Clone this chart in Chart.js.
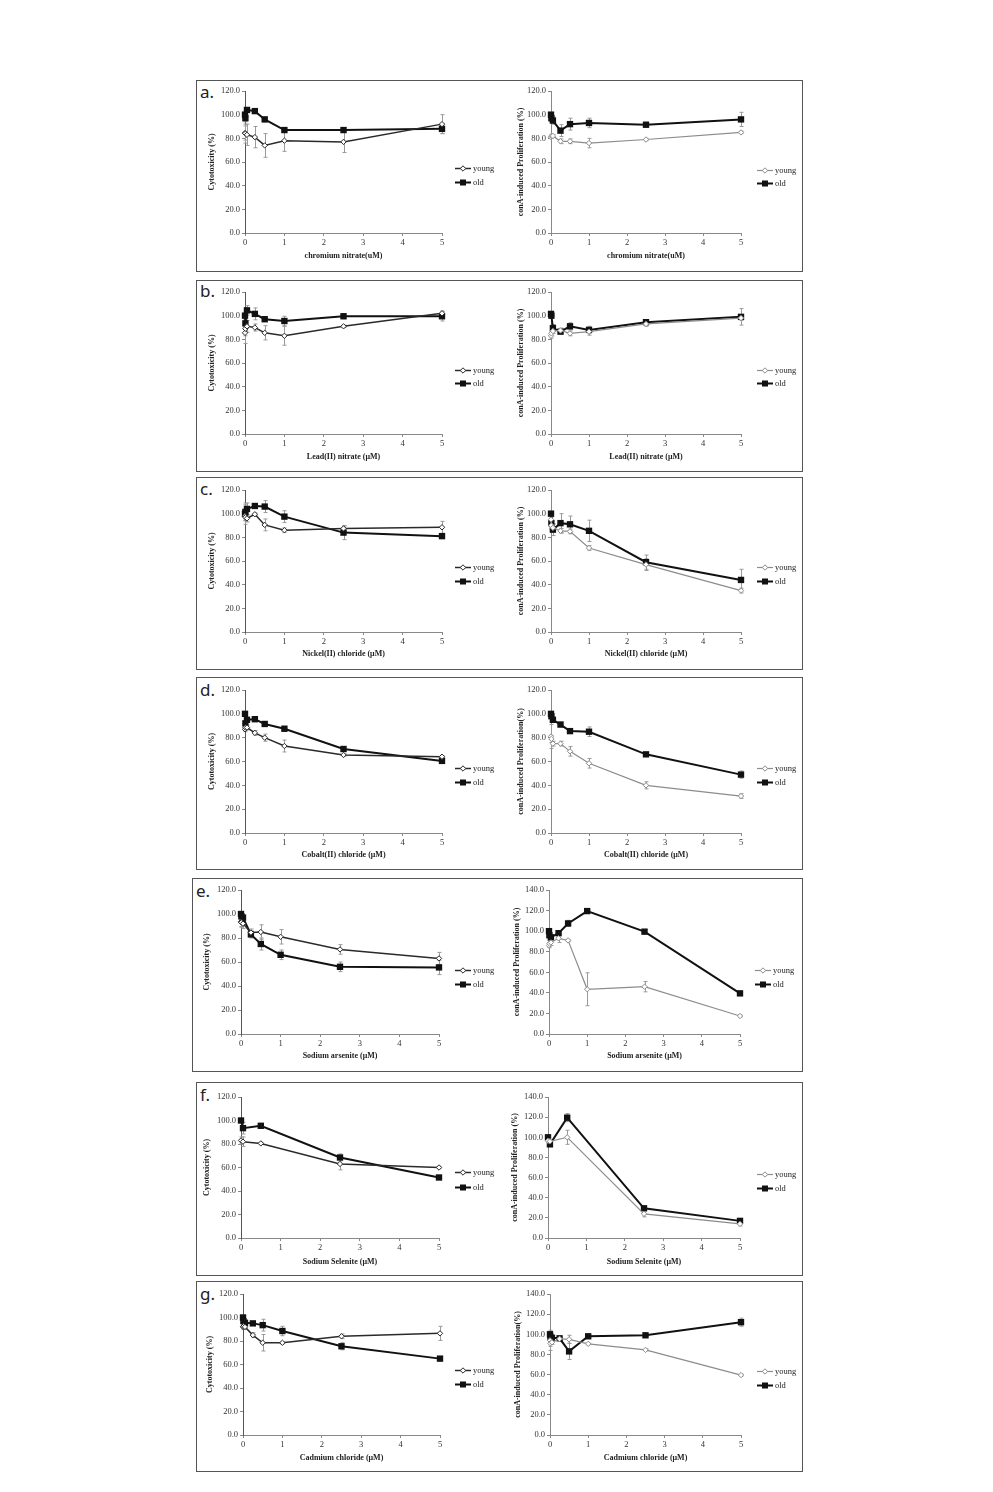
<!DOCTYPE html>
<html><head><meta charset="utf-8">
<script src="https://cdn.jsdelivr.net/npm/chart.js@4"></script>
<style>
html,body{margin:0;padding:0;background:#fff;}
body{width:993px;height:1492px;position:relative;overflow:hidden;}
.box{position:absolute;border:1px solid #555;box-sizing:border-box;}
.lbl{position:absolute;font-family:'Noto Sans',sans-serif;font-size:17px;line-height:17px;color:#222;}
canvas{position:absolute;}
</style></head><body>
<script>
// ---------- DATA ----------
const doses  = [0, 0.01, 0.05, 0.25, 0.5, 1, 2.5, 5];
const dosesF = [0, 0.05, 0.5, 2.5, 5];
const seriesNames = ['young', 'old'];

// a. chromium nitrate
const aCytoYoung = [84.5, 84, 83, 81, 74, 78, 77, 92];
const aCytoYoungErr = [6, 8, 9, 9, 10, 9, 9, 8];
const aCytoOld = [100, 97, 104, 103, 96, 87, 87, 88];
const aCytoOldErr = [3, 3, 2, 2, 2, 2, 2, 4];
const aProlYoung = [81, 82, 82, 77.5, 77.5, 76, 79, 85];
const aProlYoungErr = [1, 1, 1, 2, 2, 4, 1, 1];
const aProlOld = [100, 97, 95, 86.5, 92, 93, 91.5, 96];
const aProlOldErr = [2, 3, 3, 5, 5, 4, 2, 6];
// b. lead nitrate
const bCytoYoung = [85.5, 89, 91, 90, 85.5, 83, 91, 102];
const bCytoYoungErr = [9, 6, 5, 3, 6, 8, 1, 2];
const bCytoOld = [100, 93.5, 104.5, 101.5, 97, 95.5, 99.5, 99.5];
const bCytoOldErr = [3, 3, 4, 5, 2, 4, 2, 4];
const bProlYoung = [83, 85, 87, 87.5, 85, 86.5, 93, 98];
const bProlYoungErr = [2, 2, 2, 2, 2, 3, 2, 2];
const bProlOld = [101.5, 100, 89.5, 86.5, 91, 88, 94.5, 99];
const bProlOldErr = [2, 2, 3, 2, 3, 3, 2, 7];
// c. nickel chloride
const cCytoYoung = [98, 97, 96, 99.5, 90.5, 86, 87.5, 88.5];
const cCytoYoungErr = [4, 3, 3, 1, 5, 2, 2, 5];
const cCytoOld = [100, 101.5, 104, 106.5, 106, 97.5, 84, 81];
const cCytoOldErr = [9, 6, 5, 2, 5, 5, 6, 2];
const cProlYoung = [95, 90, 88, 85.5, 85, 71, 57, 35];
const cProlYoungErr = [3, 3, 3, 2, 2, 2, 5, 2];
const cProlOld = [100, 92, 86.5, 92, 91, 85.5, 59, 44];
const cProlOldErr = [2, 5, 5, 8, 7, 9, 6, 9];
// d. cobalt chloride
const dCytoYoung = [87, 88.5, 88.5, 84, 80, 73, 65.5, 64];
const dCytoYoungErr = [2, 2, 2, 2, 3, 5, 1, 1];
const dCytoOld = [100, 92, 95, 95.5, 91.5, 87.5, 70.5, 60.5];
const dCytoOldErr = [2, 2, 2, 2, 2, 2, 2, 2];
const dProlYoung = [81, 79, 75, 75, 68.5, 58.5, 40, 31];
const dProlYoungErr = [10, 3, 2, 2, 4, 4, 3, 2];
const dProlOld = [100, 98, 95, 91, 85.5, 85, 66, 49];
const dProlOldErr = [2, 2, 2, 2, 2, 4, 1, 3];
// e. sodium arsenite
const eCytoYoung = [93.5, 93, 92, 84.5, 85, 81, 70.5, 63];
const eCytoYoungErr = [4, 4, 4, 3, 6, 6, 4, 5];
const eCytoOld = [100, 98, 97, 83, 75, 66, 56, 55.5];
const eCytoOldErr = [2, 2, 2, 3, 5, 4, 4, 6];
const eProlYoung = [86, 88, 89, 93, 91, 43.5, 46, 17.5];
const eProlYoungErr = [2, 3, 3, 4, 1, 16, 5, 1];
const eProlOld = [100, 96, 94, 98, 107.5, 119.5, 99.5, 39.5];
const eProlOldErr = [2, 2, 2, 2, 3, 1, 2, 2];
// f. sodium selenite
const fCytoYoung = [83, 82, 80.5, 63, 60];
const fCytoYoungErr = [3, 4, 1, 5, 1];
const fCytoOld = [100, 93.5, 95.5, 68.5, 51.5];
const fCytoOldErr = [1, 5, 1, 3, 1];
const fProlYoung = [96.5, 96, 100, 24, 14];
const fProlYoungErr = [1, 1, 7, 3, 2];
const fProlOld = [100, 93, 119.5, 29.5, 17];
const fProlOldErr = [1, 2, 4, 1, 2];
// g. cadmium chloride
const gCytoYoung = [92, 92.5, 92, 85, 78.5, 78.5, 84, 86.5];
const gCytoYoungErr = [2, 2, 2, 2, 7, 1, 2, 6];
const gCytoOld = [100, 97, 95.5, 95, 93.5, 88.5, 75.5, 65];
const gCytoOldErr = [2, 2, 2, 1, 5, 4, 3, 1];
const gProlYoung = [94, 91, 92, 95.5, 95, 90.5, 84.5, 59.5];
const gProlYoungErr = [10, 3, 2, 1, 4, 1, 1, 1];
const gProlOld = [100, 97.5, 96.5, 96, 83, 98, 99, 112];
const gProlOldErr = [3, 3, 2, 1, 8, 2, 1, 4];

const cytoTitle = 'Cytotoxicity (%)';
const prolTitle = 'conA-induced Proliferation (%)';
const prolTitle2 = 'conA-induced Proliferation(%)';

// ---------- LAYOUT ----------
const panelBoxes = [[196,80,803,272],[196,280,803,472],[196,477,803,670],[196,677,803,870],[192,878,803,1072],[196,1082,803,1276],[196,1281,803,1472]];
const panelLetters = ['a.','b.','c.','d.','e.','f.','g.'];
const letterPos = [[200,98],[200,297],[200,495],[200,696],[196,897],[200,1101],[200,1300]];

panelBoxes.forEach((b,i)=>{
  const d=document.createElement('div'); d.className='box';
  d.style.left=b[0]+'px'; d.style.top=b[1]+'px'; d.style.width=(b[2]-b[0])+'px'; d.style.height=(b[3]-b[1])+'px';
  document.body.appendChild(d);
  const l=document.createElement('div'); l.className='lbl'; l.textContent=panelLetters[i];
  l.style.left=letterPos[i][0]+'px'; l.style.top=(letterPos[i][1]-15)+'px';
  document.body.appendChild(l);
});

const specs = [
 {x:doses, yv:aCytoYoung, ye:aCytoYoungErr, ov:aCytoOld, oe:aCytoOldErr, ymax:120, yTitle:cytoTitle, xTitle:'chromium nitrate(uM)', L:245,T:91,R:442,B:233, yt:212, xt:256, lx:455, ly:[168,182], light:false},
 {x:doses, yv:aProlYoung, ye:aProlYoungErr, ov:aProlOld, oe:aProlOldErr, ymax:120, yTitle:prolTitle, xTitle:'chromium nitrate(uM)', L:551,T:91,R:741,B:233, yt:521, xt:256, lx:757, ly:[170,183], light:true},
 {x:doses, yv:bCytoYoung, ye:bCytoYoungErr, ov:bCytoOld, oe:bCytoOldErr, ymax:120, yTitle:cytoTitle, xTitle:'Lead(II) nitrate (μM)', L:245,T:292,R:442,B:434, yt:212, xt:457, lx:455, ly:[370,383], light:false},
 {x:doses, yv:bProlYoung, ye:bProlYoungErr, ov:bProlOld, oe:bProlOldErr, ymax:120, yTitle:prolTitle, xTitle:'Lead(II) nitrate (μM)', L:551,T:292,R:741,B:434, yt:521, xt:457, lx:757, ly:[370,383], light:true},
 {x:doses, yv:cCytoYoung, ye:cCytoYoungErr, ov:cCytoOld, oe:cCytoOldErr, ymax:120, yTitle:cytoTitle, xTitle:'Nickel(II) chloride (μM)', L:245,T:490,R:442,B:632, yt:212, xt:654, lx:455, ly:[567,581], light:false},
 {x:doses, yv:cProlYoung, ye:cProlYoungErr, ov:cProlOld, oe:cProlOldErr, ymax:120, yTitle:prolTitle, xTitle:'Nickel(II) chloride (μM)', L:551,T:490,R:741,B:632, yt:521, xt:654, lx:757, ly:[567,581], light:true},
 {x:doses, yv:dCytoYoung, ye:dCytoYoungErr, ov:dCytoOld, oe:dCytoOldErr, ymax:120, yTitle:cytoTitle, xTitle:'Cobalt(II) chloride (μM)', L:245,T:690,R:442,B:833, yt:212, xt:855, lx:455, ly:[768,782], light:false},
 {x:doses, yv:dProlYoung, ye:dProlYoungErr, ov:dProlOld, oe:dProlOldErr, ymax:120, yTitle:prolTitle2, xTitle:'Cobalt(II) chloride (μM)', L:551,T:690,R:741,B:833, yt:521, xt:855, lx:757, ly:[768,782], light:true},
 {x:doses, yv:eCytoYoung, ye:eCytoYoungErr, ov:eCytoOld, oe:eCytoOldErr, ymax:120, yTitle:cytoTitle, xTitle:'Sodium arsenite (μM)', L:241,T:890,R:439,B:1034, yt:207, xt:1056, lx:455, ly:[970,984], light:false},
 {x:doses, yv:eProlYoung, ye:eProlYoungErr, ov:eProlOld, oe:eProlOldErr, ymax:140, yTitle:prolTitle, xTitle:'Sodium arsenite (μM)', L:549,T:890,R:740,B:1034, yt:517, xt:1056, lx:755, ly:[970,984], light:true},
 {x:dosesF, yv:fCytoYoung, ye:fCytoYoungErr, ov:fCytoOld, oe:fCytoOldErr, ymax:120, yTitle:cytoTitle, xTitle:'Sodium Selenite (μM)', L:241,T:1097,R:439,B:1238, yt:207, xt:1262, lx:455, ly:[1172,1187], light:false},
 {x:dosesF, yv:fProlYoung, ye:fProlYoungErr, ov:fProlOld, oe:fProlOldErr, ymax:140, yTitle:prolTitle, xTitle:'Sodium Selenite (μM)', L:548,T:1097,R:740,B:1238, yt:515, xt:1262, lx:757, ly:[1174,1188], light:true},
 {x:doses, yv:gCytoYoung, ye:gCytoYoungErr, ov:gCytoOld, oe:gCytoOldErr, ymax:120, yTitle:cytoTitle, xTitle:'Cadmium chloride (μM)', L:243,T:1294,R:440,B:1435, yt:210, xt:1458, lx:455, ly:[1370,1384], light:false},
 {x:doses, yv:gProlYoung, ye:gProlYoungErr, ov:gProlOld, oe:gProlOldErr, ymax:140, yTitle:prolTitle2, xTitle:'Cadmium chloride (μM)', L:550,T:1294,R:741,B:1435, yt:518, xt:1458, lx:757, ly:[1371,1385], light:true}
];

const SERIF = "'Liberation Serif', 'DejaVu Serif', serif";

const errPlugin = {
  id:'errBars',
  beforeDatasetsDraw(chart){
    const ctx=chart.ctx, xs=chart.scales.x, ys=chart.scales.y;
    ctx.save(); ctx.strokeStyle='#9a9a9a'; ctx.lineWidth=1;
    chart.data.datasets.forEach(ds=>{
      ds.data.forEach((p,j)=>{
        const e=ds.err[j]; if(!e) return;
        const px=Math.round(xs.getPixelForValue(p.x))+0.5;
        const t=ys.getPixelForValue(p.y+e), b=ys.getPixelForValue(p.y-e);
        ctx.beginPath();
        ctx.moveTo(px,t); ctx.lineTo(px,b);
        ctx.moveTo(px-2,t); ctx.lineTo(px+2,t);
        ctx.moveTo(px-2,b); ctx.lineTo(px+2,b);
        ctx.stroke();
      });
    });
    ctx.restore();
  }
};

function makeLegend(s, cl, ct){
  return {
    id:'sideLegend',
    afterDraw(chart){
      const ctx=chart.ctx;
      chart.data.datasets.forEach((ds,i)=>{
        const x0=s.lx-cl, y=s.ly[i]-ct+0.5;
        ctx.save();
        ctx.strokeStyle=ds.borderColor; ctx.lineWidth=ds.borderWidth;
        ctx.beginPath(); ctx.moveTo(x0,y); ctx.lineTo(x0+16,y); ctx.stroke();
        const mx=x0+8;
        ctx.beginPath();
        if(ds.pointStyle==='rect'){
          ctx.fillStyle=ds.pointBackgroundColor; ctx.fillRect(mx-3,y-3,6,6);
        } else {
          const r=ds.pointRadius;
          ctx.moveTo(mx,y-r); ctx.lineTo(mx+r,y); ctx.lineTo(mx,y+r); ctx.lineTo(mx-r,y); ctx.closePath();
          ctx.fillStyle='#fff'; ctx.fill(); ctx.lineWidth=1; ctx.strokeStyle=ds.pointBorderColor; ctx.stroke();
        }
        ctx.fillStyle='#222'; ctx.font='8.5px '+SERIF; ctx.textBaseline='middle'; ctx.textAlign='left';
        ctx.fillText(ds.label, x0+18, y);
        ctx.restore();
      });
    }
  };
}

function makeChart(s){
  const cl=s.L-52, ct=s.T-10, cr=s.lx+46, cb=s.B+36;
  const W=cr-cl, H=cb-ct;
  const cv=document.createElement('canvas');
  cv.width=W; cv.height=H; cv.style.width=W+'px'; cv.style.height=H+'px';
  cv.style.left=cl+'px'; cv.style.top=ct+'px';
  document.body.appendChild(cv);
  const yc = s.light ? '#8c8c8c' : '#2a2a2a';
  const datasets=[
    {label:seriesNames[0], data:s.x.map((d,i)=>({x:d,y:s.yv[i]})), err:s.ye,
     borderColor:yc, borderWidth:s.light?1.2:1.5, pointStyle:'rectRot', pointRadius:2.7,
     pointBackgroundColor:'#fff', pointBorderColor:yc, pointBorderWidth:1, tension:0, clip:false},
    {label:seriesNames[1], data:s.x.map((d,i)=>({x:d,y:s.ov[i]})), err:s.oe,
     borderColor:'#111', borderWidth:2, pointStyle:'rect', pointRadius:4.5,
     pointBackgroundColor:'#111', pointBorderColor:'#111', pointBorderWidth:0, tension:0, clip:false}
  ];
  const tickFont={family:SERIF, size:8.5};
  const titleFont={family:SERIF, size:8, weight:'bold'};
  new Chart(cv,{
    type:'line',
    data:{datasets},
    options:{
      responsive:false, animation:false, devicePixelRatio:1,
      layout:{padding:{left:0, top:10, right:cr-s.R, bottom:0}},
      plugins:{legend:{display:false}, tooltip:{enabled:false}},
      scales:{
        x:{type:'linear', min:0, max:5,
           ticks:{stepSize:1, font:tickFont, color:'#333', padding:2, maxRotation:0},
           grid:{drawOnChartArea:false, tickLength:3, color:'#888'},
           border:{color:'#888'},
           title:{display:true, text:s.xTitle, font:titleFont, color:'#222', padding:{top:0, bottom:(s.B+36)-s.xt-4.8}},
           afterFit(sc){ sc.height=36; }},
        y:{type:'linear', min:0, max:s.ymax,
           ticks:{stepSize:20, font:tickFont, color:'#333', padding:2, callback:v=>Number(v).toFixed(1)},
           grid:{drawOnChartArea:false, tickLength:3, color:'#888'},
           border:{color:s.light?'#888':'#555'},
           title:{display:true, text:s.yTitle, font:titleFont, color:'#222', padding:{top:s.yt-cl-4.8, bottom:0}},
           afterFit(sc){ sc.width=52; }}
      }
    },
    plugins:[errPlugin, makeLegend(s, cl, ct)]
  });
}

specs.forEach(makeChart);
</script>
</body></html>
